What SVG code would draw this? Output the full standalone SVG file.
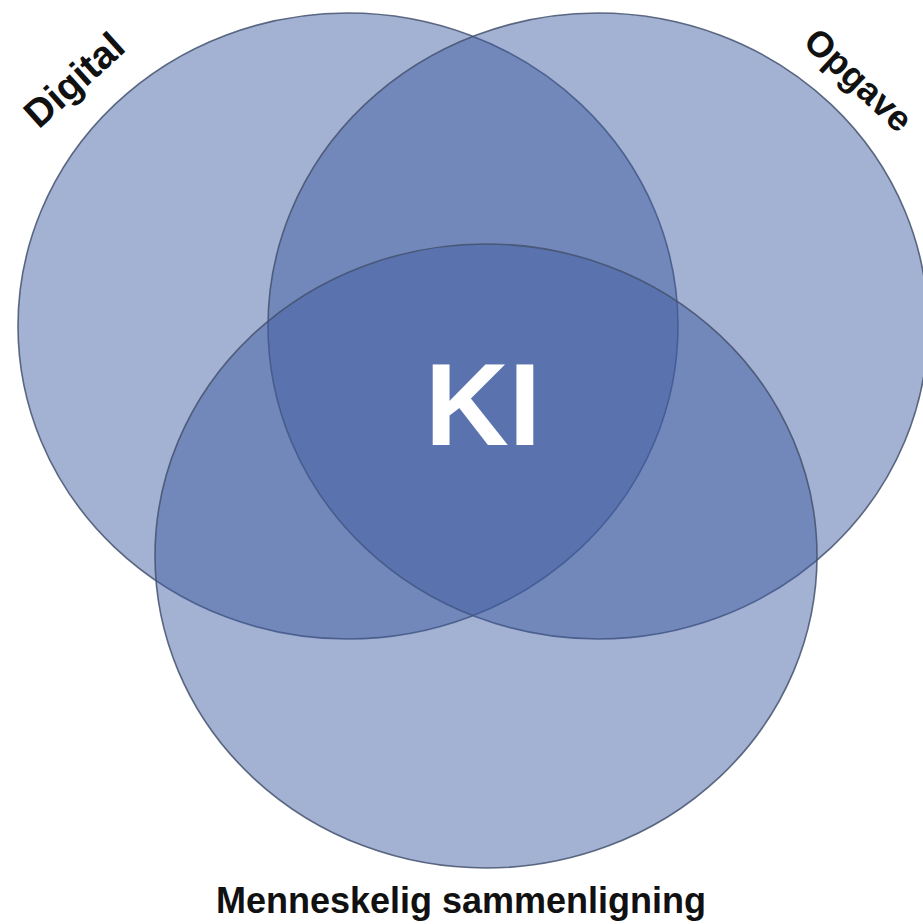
<svg xmlns="http://www.w3.org/2000/svg" width="923" height="924" viewBox="0 0 923 924">
<style>
.set{fill:rgb(63,92,161);fill-opacity:0.48;stroke:#44526f;stroke-opacity:0.85;stroke-width:1.6}
.lbl{font-family:"Liberation Sans",Arial,sans-serif;font-weight:bold;fill:#111;font-size:36px}
.ki{font-family:"Liberation Sans",Arial,sans-serif;font-weight:bold;fill:#fff;font-size:116px}
</style>
<rect width="923" height="924" fill="#fff"/>
<g id="digital">
<ellipse class="set" cx="348" cy="326" rx="330" ry="313"/>
<text class="lbl" style="font-size:39px" text-anchor="middle" transform="translate(83,90) rotate(-42)">Digital</text>
</g>
<g id="opgave">
<ellipse class="set" cx="598" cy="326" rx="330" ry="313"/>
<text class="lbl" style="font-size:36px" text-anchor="middle" transform="translate(850,89) rotate(43)">Opgave</text>
</g>
<g id="menneskelig">
<ellipse class="set" cx="486" cy="556" rx="331" ry="312"/>
<text class="lbl" x="461" y="913" text-anchor="middle">Menneskelig sammenligning</text>
</g>
<g id="ki">
<text class="ki" x="483" y="445" text-anchor="middle">KI</text>
</g>
<g id="connectors"/>
</svg>
